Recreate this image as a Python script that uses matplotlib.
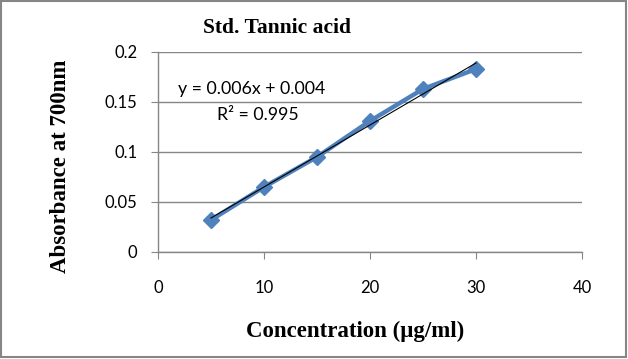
import numpy as np
import matplotlib.pyplot as plt
from matplotlib.patches import Rectangle

# standard curve readings
conc = [5, 10, 15, 20, 25, 30]
absorb = [0.032, 0.065, 0.095, 0.131, 0.163, 0.183]
xticks = [0, 10, 20, 30, 40]
yticks = [0, 0.05, 0.1, 0.15, 0.2]
ytick_labels = ['0', '0.05', '0.1', '0.15', '0.2']

blue = '#4F81BD'
grey = '#868686'
serif = 'Liberation Serif'
sans = 'Lato'

fig = plt.figure(figsize=(6.28, 3.59), dpi=100)
ax = fig.add_axes([158/628, 107/359, 424/628, 200/359])

# data series
ax.plot(conc, absorb, color=blue, lw=3.2, marker='D', ms=8.5,
        mec=blue, mfc=blue, zorder=3)

# linear trendline
slope, icpt = np.polyfit(conc, absorb, 1)
tx = np.array([conc[0], conc[-1]])
ax.plot(tx, slope*tx + icpt, color='black', lw=0.8, zorder=4)

ax.text(0.2217, 0.815, 'y = 0.006x + 0.004', fontsize=12.8, family=sans,
        ha='center', va='center', transform=ax.transAxes)
ax.text(0.236, 0.685, 'R\u00b2 = 0.995', fontsize=12.8, family=sans,
        ha='center', va='center', transform=ax.transAxes)

ax.set_xlim(0, 40)
ax.set_ylim(0, 0.2)
ax.set_xticks(xticks)
ax.set_yticks(yticks)
ax.set_yticklabels(ytick_labels)
ax.yaxis.grid(True, color=grey, lw=1)
ax.set_axisbelow(True)
for s in ['top', 'right']:
    ax.spines[s].set_visible(False)
for s in ['left', 'bottom']:
    ax.spines[s].set_color(grey)
    ax.spines[s].set_linewidth(1)
ax.tick_params(axis='x', direction='out', length=5, color=grey, pad=15,
               labelsize=12)
ax.tick_params(axis='y', direction='out', length=5, color=grey, pad=10,
               labelsize=12)
for lab in ax.get_xticklabels() + ax.get_yticklabels():
    lab.set_family(sans)

fig.text(277/628, 1 - 28/359, 'Std. Tannic acid', family=serif,
         weight='bold', fontsize=15.5, ha='center', va='center')
fig.text(355/628, 1 - 331/359, 'Concentration (\u03bcg/ml)', family=serif,
         weight='bold', fontsize=16.5, ha='center', va='center')
fig.text(60/628, 1 - 166/359, 'Absorbance at 700nm', family=serif,
         weight='bold', fontsize=16.5, ha='center', va='center',
         rotation=90)

# chart border
fig.patches.append(Rectangle((1/628, 2/359), 625/628, 356/359,
                             transform=fig.transFigure, fill=False,
                             edgecolor=grey, lw=1.5))

fig.savefig('out.png', dpi=100)
